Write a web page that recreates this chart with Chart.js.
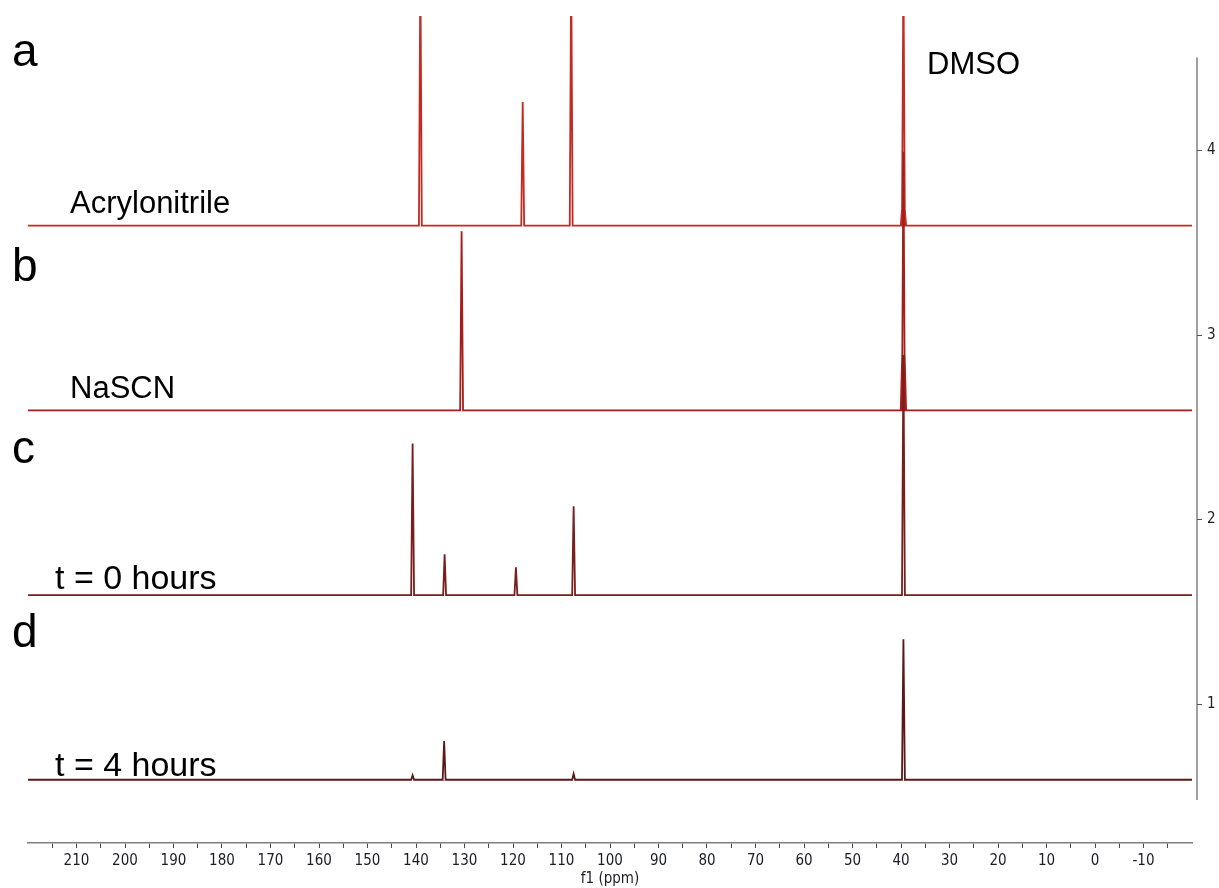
<!DOCTYPE html>
<html>
<head>
<meta charset="utf-8">
<script src="https://cdn.jsdelivr.net/npm/chart.js@4.4.1/dist/chart.umd.min.js"></script>
<style>
  html, body { margin: 0; padding: 0; background: #ffffff; }
  #wrap { width: 1219px; height: 888px; }
</style>
</head>
<body>
<div id="wrap"><canvas id="nmr" width="1219" height="888"></canvas></div>
<script>
// 13C NMR spectra in DMSO-d6, stacked. Each peak: [shift (ppm), intensity above its baseline]
const acrylonitrilePeaks = [[139.1, 1.40], [118.0, 0.67], [108.0, 1.40], [39.75, 0.10], [39.5, 1.40], [39.25, 0.10]];
const nascnPeaks         = [[130.6, 0.97], [39.75, 0.30], [39.5, 1.40], [39.25, 0.30]];
const t0Peaks            = [[140.7, 0.82], [134.1, 0.22], [119.4, 0.15], [107.5, 0.48], [39.5, 1.30]];
const t4Peaks            = [[140.7, 0.025], [134.2, 0.21], [107.5, 0.032], [39.5, 0.76]];

// vertical offsets of the stacked traces (intensity units of the right-hand axis)
const traceOffsets = [3.59, 2.59, 1.59, 0.59];
const traceNames   = ['Acrylonitrile', 'NaSCN', 't = 0 hours', 't = 4 hours'];
const shiftRange   = [220, -20];
const intensityTicks = [1, 2, 3, 4];

const PEAK_HALF_WIDTH = 0.3;

// turn a peak list into a polyline across the full ppm window
function buildTrace(peaks, base) {
  const pts = [{ x: shiftRange[0], y: base }];
  peaks.slice().sort((p, q) => q[0] - p[0]).forEach(([ppm, h]) => {
    pts.push({ x: ppm + PEAK_HALF_WIDTH, y: base });
    pts.push({ x: ppm, y: base + h });
    pts.push({ x: ppm - PEAK_HALF_WIDTH, y: base });
  });
  pts.push({ x: shiftRange[1], y: base });
  return pts;
}

const peakLists = [acrylonitrilePeaks, nascnPeaks, t0Peaks, t4Peaks];
const traceColors = ['#c42a22', '#a61e1b', '#7a1d1d', '#5c1818'];

const datasets = peakLists.map((peaks, i) => ({
  label: traceNames[i],
  data: buildTrace(peaks, traceOffsets[i]),
  borderColor: traceColors[i],
  borderWidth: 1.8,
  pointRadius: 0,
  tension: 0,
  fill: false,
  order: peakLists.length - i
}));

// right-hand intensity axis line, shorter than the plot area
const rightAxisLine = {
  id: 'rightAxisLine',
  afterDraw(chart) {
    const { ctx, chartArea, scales } = chart;
    const y = scales.y;
    const x0 = chartArea.right + 5;
    ctx.save();
    ctx.strokeStyle = '#808080';
    ctx.lineWidth = 1.5;
    ctx.beginPath();
    ctx.moveTo(x0, y.getPixelForValue(4.5));
    ctx.lineTo(x0, y.getPixelForValue(0.48));
    ctx.stroke();
    ctx.strokeStyle = '#555555';
    ctx.lineWidth = 1;
    intensityTicks.forEach(v => {
      const py = Math.round(y.getPixelForValue(v)) + 0.5;
      ctx.beginPath();
      ctx.moveTo(x0, py);
      ctx.lineTo(x0 + 5, py);
      ctx.stroke();
    });
    ctx.restore();
  }
};

// panel letters and sample names
const panelLabels = {
  id: 'panelLabels',
  afterDatasetsDraw(chart) {
    const ctx = chart.ctx;
    ctx.save();
    ctx.fillStyle = '#000000';
    ctx.textBaseline = 'alphabetic';
    ctx.textAlign = 'left';
    ctx.font = '46px "Liberation Sans", Arial, sans-serif';
    [['a', 66], ['b', 281], ['c', 463], ['d', 647]].forEach(([t, y]) => ctx.fillText(t, 12, y));
    ctx.font = '31px "Liberation Sans", Arial, sans-serif';
    ctx.fillText(traceNames[0], 70, 213);
    ctx.fillText(traceNames[1], 70, 398);
    ctx.fillText('DMSO', 927, 74);
    ctx.font = '34px "Liberation Sans", Arial, sans-serif';
    ctx.fillText(traceNames[2], 55, 589);
    ctx.fillText(traceNames[3], 55, 776);
    ctx.restore();
  }
};

const tickFont = { family: '"DejaVu Sans Condensed", "DejaVu Sans", sans-serif', size: 15 };

new Chart(document.getElementById('nmr'), {
  type: 'line',
  data: { datasets },
  options: {
    responsive: false,
    animation: false,
    parsing: true,
    layout: { padding: { top: 16, left: 28, right: 0, bottom: 0 } },
    plugins: { legend: { display: false }, tooltip: { enabled: false } },
    scales: {
      x: {
        type: 'linear',
        position: 'bottom',
        min: shiftRange[1],
        max: shiftRange[0],
        reverse: true,
        afterBuildTicks(scale) {
          const t = [];
          for (let v = 215; v >= -15; v -= 5) t.push({ value: v });
          scale.ticks = t;
        },
        afterFit(scale) { scale.height = 45; },
        ticks: {
          autoSkip: false,
          maxRotation: 0,
          padding: 4,
          color: '#1c1c28',
          font: tickFont,
          callback: v => (v % 10 === 0 ? String(v) : '')
        },
        grid: { drawOnChartArea: false, drawTicks: true, tickLength: 5, tickColor: '#444444', tickWidth: 1 },
        border: { display: true, color: '#808080', width: 1.5 },
        title: { display: true, text: 'f1 (ppm)', color: '#1c1c28', font: tickFont, padding: { top: 0, bottom: 0 } }
      },
      y: {
        type: 'linear',
        position: 'right',
        min: 0.2475,
        max: 4.725,
        afterBuildTicks(scale) { scale.ticks = intensityTicks.map(v => ({ value: v })); },
        afterFit(scale) { scale.width = 27; },
        ticks: { padding: 5, color: '#1c1c28', font: tickFont },
        grid: { display: true, drawOnChartArea: false, drawTicks: true, tickLength: 10, tickColor: 'rgba(0,0,0,0)' },
        border: { display: false }
      }
    }
  },
  plugins: [rightAxisLine, panelLabels]
});
</script>
</body>
</html>
